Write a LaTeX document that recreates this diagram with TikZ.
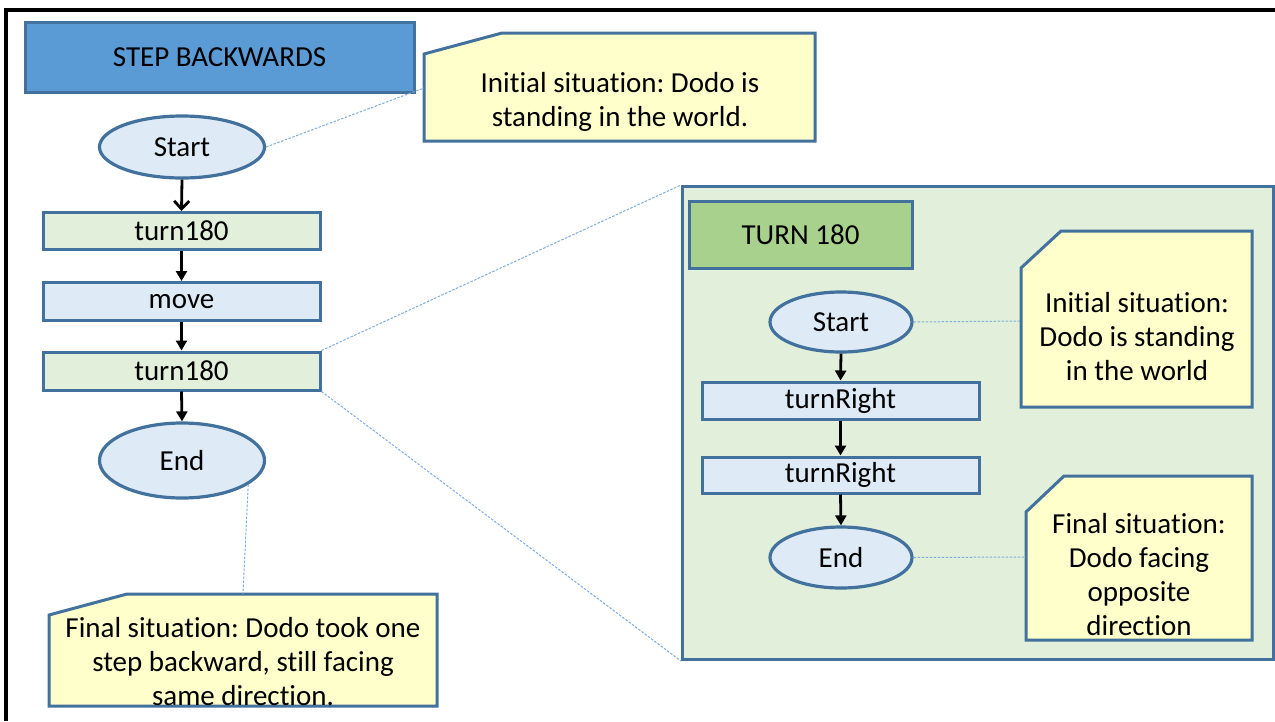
\documentclass[tikz,border=0pt]{standalone}
\usepackage{fontspec}
\setmainfont{Carlito}[Ligatures=NoCommon]
\frenchspacing
\usetikzlibrary{arrows.meta,shapes.geometric}

\definecolor{edgeblue}{HTML}{41719C}
\definecolor{titleblue}{HTML}{5B9BD5}
\definecolor{paleblue}{HTML}{DEEBF7}
\definecolor{palegreen}{HTML}{E2EFDA}
\definecolor{midgreen}{HTML}{A9D18E}
\definecolor{noteyellow}{HTML}{FFFFCC}
\definecolor{hintblue}{HTML}{7FAEDB}

\begin{document}
\begin{tikzpicture}[x=1pt,y=-1pt,
  txt/.style={font=\fontsize{29}{34}\selectfont, inner sep=0pt},
  box/.style={txt, rectangle, draw=edgeblue, line width=3pt},
  stepbox/.style={box, minimum width=277, minimum height=37},
  oval/.style={txt, ellipse, draw=edgeblue, fill=paleblue, line width=3.2pt},
  flow/.style={line width=2.8pt, -{Triangle[length=10pt,width=11pt]}},
  hint/.style={draw=hintblue, line width=1pt, dash pattern=on 2.5pt off 1.5pt},
  note/.style={txt, align=center},
  notebox/.style={draw=edgeblue, fill=noteyellow, line width=3pt, line join=miter}]

\useasboundingbox (0,0) rectangle (1275,721);

% outer frame (left and top edges)
\draw[line width=4pt] (6,721) -- (6,10) -- (1275,10);

% ---------------- main flow: step backwards ----------------
\node[box, fill=titleblue, minimum width=389, minimum height=70] (title) at (219.5,57) {STEP BACKWARDS};

\node[oval, minimum width=165, minimum height=62] (startA) at (182,147) {Start};
\node[stepbox, fill=palegreen] (turnA) at (181.5,231) {turn180};
\node[stepbox, fill=paleblue, minimum height=38] (moveA) at (181.5,301.5) {move};
\node[stepbox, fill=palegreen, minimum height=38] (turnB) at (181.5,371) {turn180};
\node[oval, minimum width=165, minimum height=75] (endA) at (182,460.5) {End};

\draw[line width=2.8pt, -{Straight Barb[length=8pt,width=15pt,line width=2.8pt]}] (startA.south) -- (turnA.north);
\draw[flow] (turnA.south) -- (moveA.north);
\draw[flow] (moveA.south) -- (turnB.north);
\draw[flow] (turnB.south) -- (endA.north);

% note on the initial situation
\draw[notebox] (502,33) -- (815,33) -- (815,141) -- (424,141) -- (424,54) -- cycle;
\node[note] (initA) at (620,101.5) {Initial situation: Dodo is\\standing in the world.};
\coordinate (initAin) at (424,88);
\draw[hint] (startA.east) -- (initAin);

% note on the final situation
\draw[notebox] (127,594) -- (437,594) -- (437,706) -- (49,706) -- (49,615) -- cycle;
\node[note] (finalA) at (243,662) {Final situation: Dodo took one\\step backward, still facing\\same direction.};
\coordinate (finalAin) at (243,594);
\draw[hint] (endA.-20) -- (finalAin);

% ---------------- detail: turn 180 ----------------
\node[box, fill=palegreen, minimum width=591, minimum height=473, anchor=north west] (detail) at (681,185) {};
\draw[hint] (turnB.north east) -- (detail.north west);
\draw[hint] (turnB.south east) -- (detail.south west);

\node[box, fill=midgreen, minimum width=223, minimum height=67] (title2) at (800.5,234.5) {TURN 180};

\node[oval, minimum width=142, minimum height=60] (startB) at (841,322) {Start};
\node[stepbox, fill=paleblue] (rightA) at (840.5,400.5) {turnRight};
\node[stepbox, fill=paleblue, minimum height=36] (rightB) at (840.5,475) {turnRight};
\node[oval, minimum width=142, minimum height=61] (endB) at (841,557.5) {End};

\draw[flow] (startB.south) -- (rightA.north);
\draw[flow] (rightA.south) -- (rightB.north);
\draw[flow] (rightB.south) -- (endB.north);

\draw[notebox] (1061,231) -- (1252,231) -- (1252,407) -- (1021,407) -- (1021,268) -- cycle;
\node[note] (initB) at (1137,337) {Initial situation:\\Dodo is standing\\in the world};
\coordinate (initBin) at (1021,321);
\draw[hint] (startB.east) -- (initBin);

\draw[notebox] (1064,476) -- (1252,476) -- (1252,640) -- (1026,640) -- (1026,512) -- cycle;
\node[note] (finalB) at (1139,574.5) {Final situation:\\Dodo facing\\opposite\\direction};
\coordinate (finalBin) at (1026,557);
\draw[hint] (endB.east) -- (finalBin);

\end{tikzpicture}
\end{document}
